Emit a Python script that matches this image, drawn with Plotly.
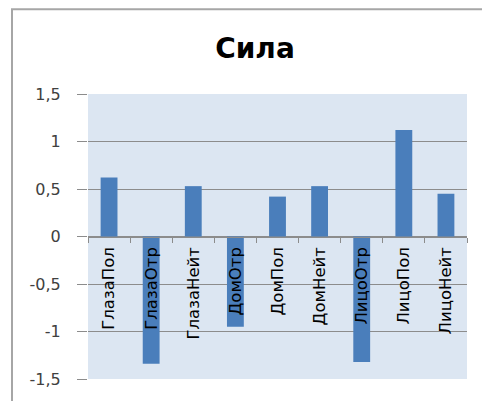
import plotly.graph_objects as go

categories = ["ГлазаПол", "ГлазаОтр", "ГлазаНейт", "ДомОтр", "ДомПол",
              "ДомНейт", "ЛицоОтр", "ЛицоПол", "ЛицоНейт"]
values = [0.62, -1.34, 0.53, -0.95, 0.42, 0.53, -1.32, 1.12, 0.45]
y_tickvals = [-1.5, -1, -0.5, 0, 0.5, 1, 1.5]
y_ticktext = ["-1,5", "-1", "-0,5", "0", "0,5", "1", "1,5"]
title_text = "Сила"

W, H = 482, 401
ML, MR, MT, MB = 88, 15, 94, 18
PW, PH = W - ML - MR, H - MT - MB

def px(x):
    return (x - ML) / PW

def py(y):
    return (H - MB - y) / PH

fig = go.Figure()
fig.add_trace(go.Bar(x=categories, y=values, width=0.4,
                     marker=dict(color="#4a7ebb", line=dict(width=0))))

grid = "#8c8c8c"
fig.update_layout(
    width=W, height=H,
    margin=dict(l=ML, r=MR, t=MT, b=MB),
    paper_bgcolor="white",
    plot_bgcolor="#dce6f2",
    showlegend=False,
    title=dict(text="<b>" + title_text + "</b>", x=255 / W, y=1 - 48 / H,
               xanchor="center", yanchor="middle",
               font=dict(family="DejaVu Sans", size=28, color="#000000")),
    font=dict(family="DejaVu Sans"),
    xaxis=dict(anchor="free", position=0.5, showline=True, linecolor=grid,
               linewidth=1, ticks="outside", tickson="boundaries", ticklen=5,
               tickcolor=grid, tickangle=-90, showgrid=False, zeroline=False,
               ticklabelstandoff=3,
               tickfont=dict(size=16.5, color="#000000")),
    yaxis=dict(range=[-1.5, 1.5], tickvals=y_tickvals, ticktext=y_ticktext,
               showgrid=True, gridcolor=grid, gridwidth=1, zeroline=False,
               ticks="outside", ticklen=10, tickcolor=grid, showline=False,
               ticklabelstandoff=13,
               tickfont=dict(size=16, color="#404040")),
    shapes=[dict(type="rect", xref="paper", yref="paper",
                 x0=px(12), x1=px(495), y0=py(410), y1=py(8),
                 line=dict(color="#a6a6a6", width=2), layer="below")],
)

fig.write_html("out.html")
